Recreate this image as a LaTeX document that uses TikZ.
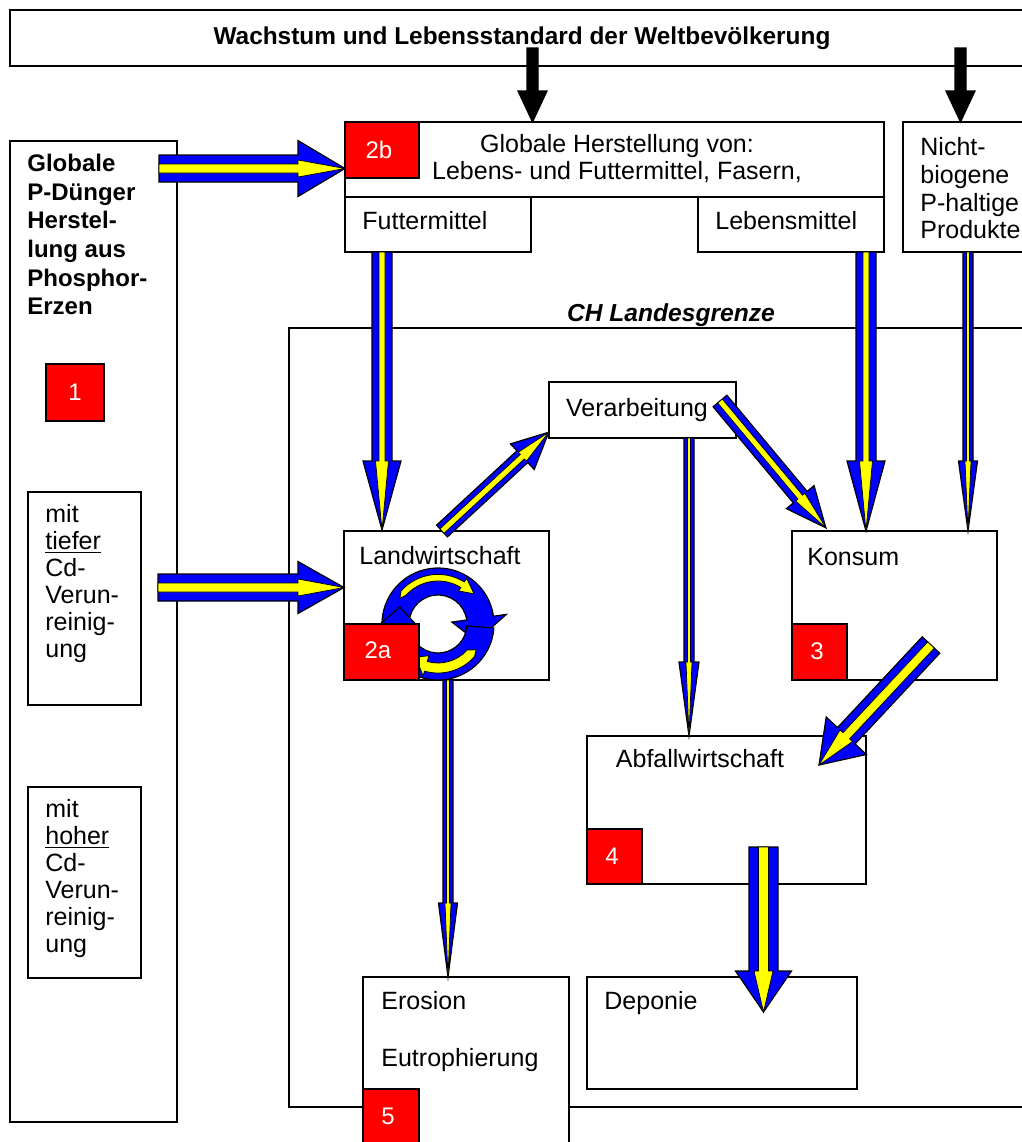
\documentclass[tikz,border=0pt]{standalone}
\usepackage{fontspec}
\setmainfont{Liberation Sans}
\usetikzlibrary{calc}

\definecolor{flowblue}{RGB}{0,0,255}
\definecolor{flowyellow}{RGB}{255,255,0}
\definecolor{tagred}{RGB}{255,0,0}

% direction and length of a flow arrow between two named points
\newcommand\flowgeom[2]{%
  \pgfpointdiff{\pgfpointanchor{#1}{center}}{\pgfpointanchor{#2}{center}}%
  \pgfgetlastxy{\flowdx}{\flowdy}%
  \pgfmathsetmacro\flowang{atan2(\flowdy,\flowdx)}%
  \pgfmathsetmacro\flowlen{veclen(\flowdx,\flowdy)}%
}
% block arrow along the local x axis: style, half shaft, half head, head length (pt)
\newcommand\flowshape[4]{%
  \pgfmathsetmacro\flowbase{\flowlen-#4}%
  \filldraw[#1] (0,-#2) -- (\flowbase,-#2) -- (\flowbase,-#3) -- (\flowlen,0)
     -- (\flowbase,#3) -- (\flowbase,#2) -- (0,#2) -- cycle;}
% blue arrow with yellow core: start, end, shaft w, head w, head length, core w, core head w (px)
\newcommand\fatflow[7]{%
  \flowgeom{#1}{#2}%
  \begin{scope}[shift={(#1)}, rotate=\flowang, x=1pt, y=1pt]
    \pgfmathsetmacro\flowsa{#3/4}\pgfmathsetmacro\flowha{#4/4}\pgfmathsetmacro\flowhl{#5/2}%
    \flowshape{flowout}{\flowsa}{\flowha}{\flowhl}%
    \pgfmathsetmacro\flowsb{#6/4}\pgfmathsetmacro\flowhb{#7/4}%
    \flowshape{flowin}{\flowsb}{\flowhb}{\flowhl}%
  \end{scope}}
% plain black arrow: start, end, shaft w, head w, head length (px)
\newcommand\solidflow[5]{%
  \flowgeom{#1}{#2}%
  \begin{scope}[shift={(#1)}, rotate=\flowang, x=1pt, y=1pt]
    \pgfmathsetmacro\flowsa{#3/4}\pgfmathsetmacro\flowha{#4/4}\pgfmathsetmacro\flowhl{#5/2}%
    \flowshape{blackflow}{\flowsa}{\flowha}{\flowhl}%
  \end{scope}}

\tikzset{
  plainbox/.style={draw=black, line width=0.6pt, inner sep=0pt, outer sep=0pt},
  box/.style={plainbox, fill=white},
  tagbox/.style={plainbox, fill=tagred},
  tagtext/.style={text=white, inner sep=0pt, font=\fontsize{12}{14}\selectfont},
  txt/.style={inner sep=0pt, align=left, anchor=north west, font=\fontsize{12.5}{13.5}\selectfont},
  linetxt/.style={inner sep=0pt, anchor=base west, font=\fontsize{12.5}{13.5}\selectfont},
  ctxt/.style={inner sep=0pt, align=center, font=\fontsize{12.5}{13.5}\selectfont},
  flowout/.style={fill=flowblue, draw=black, line width=0.6pt},
  flowin/.style={fill=flowyellow, draw=black, line width=0.35pt},
  blackflow/.style={fill=black, draw=black, line width=0.6pt},
}

\begin{document}
\begin{tikzpicture}[x=0.5pt,y=-0.5pt]
\path[use as bounding box] (0,0) rectangle (1022,1142);
\clip (0,0) rectangle (1022,1142);

% headline
\node[box, minimum width=515pt, minimum height=28pt] (title) at (525,38) {};
\draw[line width=1.2pt] (title.north west) -- (title.north east);
\node[inner sep=0pt, anchor=base, font=\fontsize{12.2}{14}\selectfont\bfseries] (titletext) at (522,44)
  {Wachstum und Lebensstandard der Weltbevölkerung};

% fertiliser production column
\node[box, minimum width=83.5pt, minimum height=490.5pt] (duenger) at (93.5,631.5) {};
\node[txt, font=\fontsize{12}{14.3}\selectfont\bfseries] (duengertext) at (27,154)
  {Globale\\P-Dünger\\Herstel-\\lung aus\\Phosphor-\\Erzen};
\node[tagbox, minimum width=29pt, minimum height=28.5pt] (tag1) at (75,392.5) {};
\node[tagtext] (tag1text) at (75,392.5) {1};
\node[box, minimum width=56.5pt, minimum height=106.5pt] (tief) at (84.5,598.5) {};
\node[txt] (tieftext) at (45,504) {mit\\\underline{tiefer}\\Cd-\\Verun-\\reinig-\\ung};
\node[box, minimum width=56.5pt, minimum height=95.5pt] (hoch) at (84.5,882.5) {};
\node[txt] (hochtext) at (45,799) {mit\\\underline{hoher}\\Cd-\\Verun-\\reinig-\\ung};

% national border
\node[plainbox, minimum width=375.5pt, minimum height=389.5pt] (ch) at (664.5,717.5) {};
\node[inner sep=0pt, anchor=base, font=\fontsize{12.3}{14}\selectfont\bfseries\itshape] (chlabel) at (671,321) {CH Landesgrenze};

% global production
\node[box, minimum width=269.5pt, minimum height=37.5pt] (glob) at (614.5,159.5) {};
\node[tagbox, minimum width=37pt, minimum height=28pt] (tag2b) at (382,150) {};
\node[tagtext] (tag2btext) at (379,150) {2b};
\node[ctxt] (globtext) at (617,159) {Globale Herstellung von:\\Lebens- und Futtermittel, Fasern,};
\node[box, minimum width=93pt, minimum height=27.5pt] (futter) at (438,224.5) {};
\node[linetxt] (futtertext) at (362,229) {Futtermittel};
\node[box, minimum width=93pt, minimum height=27.5pt] (lebens) at (791,224.5) {};
\node[linetxt] (lebenstext) at (715,229) {Lebensmittel};
\node[box, minimum width=68.5pt, minimum height=65pt] (nicht) at (971.5,187) {};
\node[txt, font=\fontsize{12.5}{13.9}\selectfont] (nichttext) at (920,137) {Nicht-\\biogene\\P-haltige\\Produkte};

% agriculture with nutrient cycle
\node[box, minimum width=102.5pt, minimum height=74.5pt] (land) at (446.5,605.5) {};
\coordinate (cyc) at (438,624);
\begin{scope}[shift={(cyc)}, x=1pt, y=1pt, line width=0.6pt]
  \filldraw[fill=flowblue, draw=black] (188:28) arc[start angle=188, end angle=8, radius=28]
    -- (8:34.5) -- (-24:21) -- (8:7) -- (8:14.5) arc[start angle=8, end angle=188, radius=14.5] -- cycle;
  \filldraw[fill=flowblue, draw=black] (-4:28) arc[start angle=-4, end angle=-172, radius=28]
    -- (-172:34.5) -- (156:21) -- (-172:10) -- (-172:14.5) arc[start angle=-172, end angle=-4, radius=14.5] -- cycle;
  \filldraw[fill=flowyellow, draw=black, line width=0.4pt] (146:23) -- (138:24.8)
    arc[start angle=138, end angle=58, radius=24.8] -- (58:27) -- (40:23.5) -- (58:19.5) -- (58:21.5)
    arc[start angle=58, end angle=138, radius=21.5] -- cycle;
  \filldraw[fill=flowyellow, draw=black, line width=0.4pt] (-34:23) -- (-42:24.5)
    arc[start angle=-42, end angle=-106, radius=24.5] -- (-106:27) -- (-124:20) -- (-106:16.5) -- (-106:19.5)
    arc[start angle=-106, end angle=-42, radius=19.5] -- cycle;
\end{scope}
\node[tagbox, minimum width=37.5pt, minimum height=28pt] (tag2a) at (381.5,652) {};
\node[tagtext] (tag2atext) at (378,650) {2a};
\node[ctxt, anchor=base] (landtext) at (440,564) {Landwirtschaft};

% processing, consumption, waste
\node[box, minimum width=93.5pt, minimum height=28pt] (verarb) at (642.5,410) {};
\node[ctxt, anchor=base] (verarbtext) at (637,416) {Verarbeitung};
\node[box, minimum width=102.5pt, minimum height=74.5pt] (konsum) at (894.5,605.5) {};
\node[linetxt] (konsumtext) at (807,565) {Konsum};
\node[tagbox, minimum width=27.5pt, minimum height=28pt] (tag3) at (819.5,652) {};
\node[tagtext] (tag3text) at (817,651) {3};
\node[box, minimum width=139.5pt, minimum height=74pt] (abfall) at (726.5,810) {};
\node[ctxt, anchor=base] (abfalltext) at (700,767) {Abfallwirtschaft};
\node[tagbox, minimum width=27.5pt, minimum height=27.5pt] (tag4) at (614.5,856.5) {};
\node[tagtext] (tag4text) at (612,856) {4};

% sinks
\node[box, minimum width=103pt, minimum height=91.5pt] (erosion) at (466,1068.5) {};
\node[linetxt] (erosiontext) at (381,1009) {Erosion};
\node[linetxt] (eutrotext) at (381,1066) {Eutrophierung};
\node[tagbox, minimum width=28pt, minimum height=35.5pt] (tag5) at (391,1124.5) {};
\node[tagtext] (tag5text) at (388,1116) {5};
\node[box, minimum width=135pt, minimum height=56pt] (deponie) at (722,1033) {};
\node[linetxt] (deponietext) at (604,1009) {Deponie};

% arrow end points
\coordinate (titleA) at (532.5,48);   \coordinate (globIn) at (532.5,122);
\coordinate (titleB) at (960.5,48);   \coordinate (nichtIn) at (960.5,122);
\coordinate (duengerOut) at (159,168.5); \coordinate (globLeft) at (345,168.5);
\coordinate (tiefOut) at (158,587.5);    \coordinate (landLeft) at (344,587.5);
\coordinate (futterOut) at (382,252);    \coordinate (landTop) at (382,530);
\coordinate (lebensOut) at (866,252);    \coordinate (konsumTopA) at (866,531);
\coordinate (nichtOut) at (968,252);     \coordinate (konsumTopB) at (968,531);
\coordinate (verarbOut) at (689,438);    \coordinate (abfallTop) at (689,736);
\coordinate (landOut) at (448,680);      \coordinate (erosionTop) at (448,977);
\coordinate (abfallOut) at (763.5,847);  \coordinate (deponieIn) at (763.5,1012);
\coordinate (landUp) at (442,531);       \coordinate (verarbIn) at (549,432);
\coordinate (verarbSide) at (720,401);   \coordinate (konsumIn) at (826,528);
\coordinate (konsumOut) at (931,645);    \coordinate (abfallIn) at (819,765);

% demand arrows
\solidflow{titleA}{globIn}{11}{29}{31}
\solidflow{titleB}{nichtIn}{11}{29}{31}

% phosphorus flows
\fatflow{duengerOut}{globLeft}{27}{56}{47}{9}{17}
\fatflow{tiefOut}{landLeft}{27}{52}{46}{9}{17}
\fatflow{futterOut}{landTop}{20}{38}{69}{6}{13}
\fatflow{lebensOut}{konsumTopA}{20}{38}{70}{6}{13}
\fatflow{nichtOut}{konsumTopB}{10}{19}{70}{3}{6}
\fatflow{verarbOut}{abfallTop}{10}{20}{74}{3}{6}
\fatflow{landOut}{erosionTop}{10}{19}{74}{3}{6}
\fatflow{abfallOut}{deponieIn}{29}{56}{41}{10}{19}
\fatflow{landUp}{verarbIn}{16}{35}{36}{6}{12}
\fatflow{verarbSide}{konsumIn}{18}{36}{40}{6}{12}
\fatflow{konsumOut}{abfallIn}{24}{55}{40}{9}{17}
\end{tikzpicture}
\end{document}
